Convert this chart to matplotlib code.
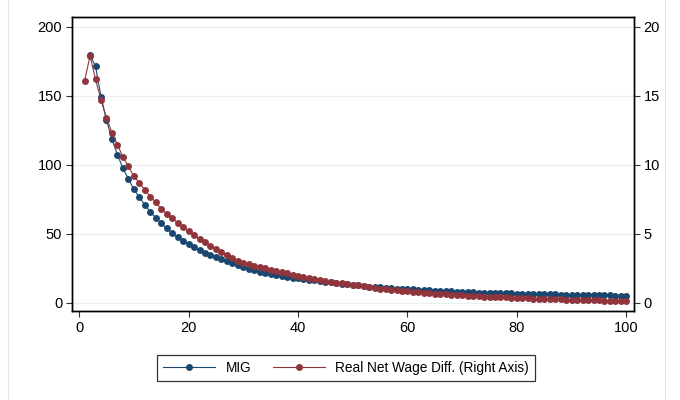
import numpy as np
import matplotlib
matplotlib.use("Agg")
import matplotlib.pyplot as plt
from matplotlib.patches import Rectangle

plt.rcParams['font.family'] = ['Liberation Sans', 'DejaVu Sans']

# x = 1..100
periods = list(range(1, 101))

# MIG (left axis); no value at period 1
mig = [np.nan, 179.5, 171.5, 149.5, 132.5, 118.5, 107.5, 97.6, 89.9, 82.4,
       76.6, 71.0, 66.2, 61.8, 57.7, 54.1, 50.5, 47.6, 44.9, 42.8,
       40.4, 38.4, 36.5, 34.8, 33.1, 31.7, 30.4, 28.8, 27.3, 25.9,
       24.8, 23.7, 22.7, 21.8, 21.0, 20.3, 19.6, 18.9, 18.4, 18.0,
       17.4, 16.9, 16.4, 15.9, 15.4, 14.9, 14.4, 13.9, 13.5, 13.1,
       12.7, 12.3, 11.9, 11.6, 11.3, 11.0, 10.7, 10.4, 10.2, 10.0,
       9.8, 9.6, 9.4, 9.2, 9.0, 8.8, 8.6, 8.4, 8.2, 8.1,
       7.9, 7.8, 7.6, 7.5, 7.4, 7.3, 7.1, 7.0, 6.9, 6.8,
       6.7, 6.6, 6.5, 6.4, 6.3, 6.3, 6.2, 6.1, 6.0, 5.9,
       5.9, 5.8, 5.7, 5.7, 5.6, 5.5, 5.5, 5.4, 5.4, 5.3]

# Real net wage difference (right axis)
wage_diff = [16.1, 17.9, 16.2, 14.7, 13.4, 12.35, 11.45, 10.6, 9.9, 9.2,
             8.7, 8.2, 7.7, 7.3, 6.8, 6.45, 6.15, 5.8, 5.5, 5.22,
             4.93, 4.65, 4.4, 4.15, 3.92, 3.7, 3.45, 3.25, 3.07, 2.92,
             2.8, 2.7, 2.6, 2.5, 2.42, 2.34, 2.24, 2.14, 2.05, 1.96,
             1.88, 1.81, 1.74, 1.67, 1.6, 1.54, 1.48, 1.43, 1.38, 1.33,
             1.28, 1.22, 1.15, 1.1, 1.05, 1.0, 0.96, 0.92, 0.88, 0.84,
             0.8, 0.77, 0.74, 0.71, 0.68, 0.65, 0.62, 0.6, 0.57, 0.55,
             0.53, 0.51, 0.49, 0.47, 0.45, 0.43, 0.41, 0.4, 0.38, 0.37,
             0.35, 0.34, 0.32, 0.31, 0.3, 0.28, 0.27, 0.26, 0.25, 0.24,
             0.23, 0.22, 0.21, 0.2, 0.19, 0.18, 0.17, 0.16, 0.15, 0.14]

left_ticks = [0, 50, 100, 150, 200]
right_ticks = [0, 5, 10, 15, 20]
x_ticks = [0, 20, 40, 60, 80, 100]

navy = '#1a476f'
maroon = '#90353b'

fig = plt.figure(figsize=(6.8, 4), dpi=100)
fig.patch.set_facecolor('white')
# faint outer border of the graph region
fig.add_artist(Rectangle((8 / 680, -0.01), (665 - 8) / 680, 1.02,
                         transform=fig.transFigure, fill=False,
                         edgecolor='#dde6ea', linewidth=0.8))

ax = fig.add_axes([72 / 680, 1 - 311 / 400, (634 - 72) / 680, (311 - 17) / 400])
ax2 = ax.twinx()

l1, = ax.plot(periods, mig, color=navy, linewidth=0.8, marker='o',
              markersize=5.0, markeredgewidth=0, zorder=3)
l2, = ax2.plot(periods, wage_diff, color=maroon, linewidth=0.8, marker='o',
               markersize=5.0, markeredgewidth=0, zorder=3)

ax.set_xlim(-1.3, 101.4)
ax.set_ylim(-5.8, 207.2)
ax2.set_ylim(-0.58, 20.72)
ax.set_xticks(x_ticks)
ax.set_yticks(left_ticks)
ax2.set_yticks(right_ticks)

ax.grid(axis='y', color='#e8f0f2', linewidth=0.9)
ax.set_axisbelow(True)

for a in (ax, ax2):
    for s in a.spines.values():
        s.set_color('black')
        s.set_linewidth(1.0)
    a.tick_params(labelsize=10.5, length=4, width=0.8, colors='#333333',
                  labelcolor='black', pad=3)

leg = fig.legend([l1, l2], ['MIG', 'Real Net Wage Diff. (Right Axis)'],
                 loc='center', bbox_to_anchor=(346 / 680, 1 - 368 / 400), ncol=2,
                 fontsize=9.8, frameon=True, fancybox=False, edgecolor='black',
                 handlelength=3.8, columnspacing=1.6, handletextpad=0.75,
                 borderpad=0.45, borderaxespad=0, markerscale=1.0)
leg.get_frame().set_linewidth(0.9)

fig.savefig('out.png', dpi=100)
